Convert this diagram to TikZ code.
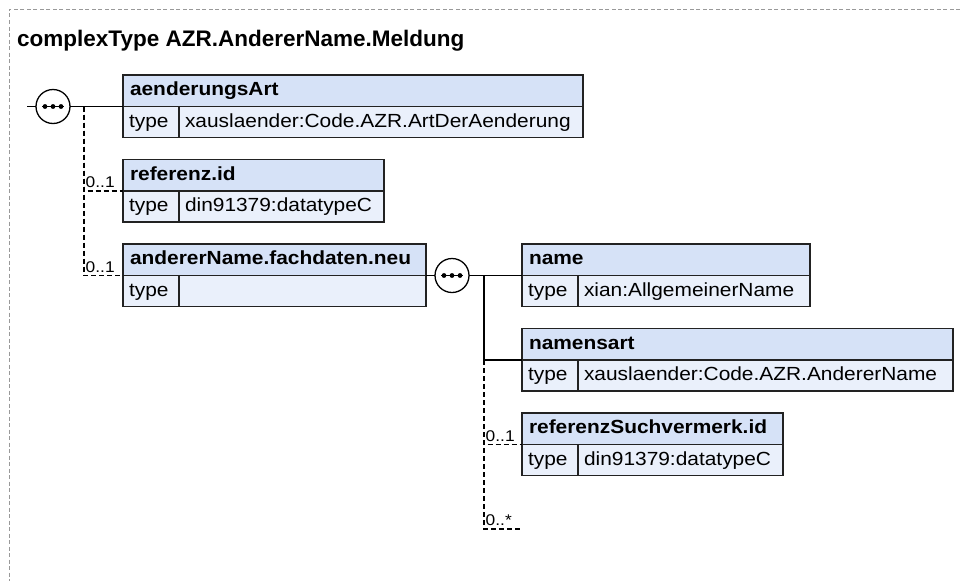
\documentclass[tikz,border=0pt]{standalone}
\usepackage{graphicx}
\usepackage{fontspec}
\setmainfont{Liberation Sans}
\newfontfamily\boxfont[FakeStretch=1.1]{Liberation Sans}
\usetikzlibrary{calc}
\definecolor{hdrfill}{HTML}{D6E2F7}
\definecolor{rowfill}{HTML}{EAF0FB}
\definecolor{edge}{HTML}{222222}
\definecolor{frame}{HTML}{999999}
\tikzset{
  hdrbox/.style={draw=edge, line width=1.5pt, fill=hdrfill, anchor=north west,
    minimum height=31.5pt, inner xsep=7pt, inner ysep=0pt, outer sep=0pt,
    text height=14pt, text depth=4pt, align=left,
    font=\boxfont\fontsize{19}{22}\selectfont\bfseries},
  cellbox/.style={draw=edge, line width=1.5pt, fill=rowfill, anchor=north west,
    minimum height=31pt, inner xsep=6pt, inner ysep=0pt, outer sep=0pt,
    text height=14pt, text depth=4pt, align=left,
    font=\boxfont\fontsize{19}{22}\selectfont},
  seqnode/.style={circle, draw=black, line width=1.3pt, fill=white,
    minimum size=34pt, inner sep=0pt, outer sep=0pt},
  conn/.style={draw=black, line width=1.3pt},
  optconn/.style={draw=black, line width=1.3pt, dash pattern=on 5pt off 3pt},
  mult/.style={font=\fontsize{15.5}{18}\selectfont, inner sep=0pt, anchor=base west},
}
\newcommand\xelem[7]{%
  \node[hdrbox, text width=#4pt] (#1) at (#2,#3) {#5};
  \node[cellbox, text width=44pt] (#1t) at (#1.south west) {type};
  \node[cellbox, text width=#6pt] (#1v) at (#1t.north east) {#7};
}
\newcommand\seqdots[1]{%
  \draw[line width=1.3pt] ($(#1.center)+(-11,0)$) -- ($(#1.center)+(11,0)$);
  \fill ($(#1.center)+(-8,0)$) circle (2.4pt);
  \fill (#1.center) circle (2.4pt);
  \fill ($(#1.center)+(8,0)$) circle (2.4pt);
}
\newcommand\multtext[1]{\scalebox{1.12}[1]{#1}}
\begin{document}
\begin{tikzpicture}[x=1pt, y=-1pt]
  \useasboundingbox (0,0) rectangle (960,581);
  \fill[white] (0,0) rectangle (960,581);
  \draw[frame, line width=1pt, dash pattern=on 4pt off 2.5pt] (960,9) -- (9,9) -- (9,581);
  \node[anchor=base west, inner sep=0pt, font=\fontsize{22.5}{26}\selectfont\bfseries] (title) at (17,46) {complexType AZR.AndererName.Meldung};

  % elements
  \xelem{aen}{123}{75}{446}{aenderungsArt}{392}{xauslaender:Code.AZR.ArtDerAenderung}
  \xelem{ref}{123}{159.5}{247}{referenz.id}{193}{din91379:datatypeC}
  \xelem{and}{123}{244}{289}{andererName.fachdaten.neu}{235}{}
  \xelem{nme}{522}{244}{274}{name}{220}{xian:AllgemeinerName}
  \xelem{nam}{522}{328.5}{417}{namensart}{363}{xauslaender:Code.AZR.AndererName}
  \xelem{rsv}{522}{413}{247}{referenzSuchvermerk.id}{193}{din91379:datatypeC}

  % sequence 1
  \coordinate (in1) at (27,106.5);
  \node[seqnode] (s1) at (53,106.5) {};
  \seqdots{s1}
  \coordinate (b1) at (84,106.5);
  \draw[conn] (in1) -- (s1);
  \draw[conn] (s1) -- (aen.south west);
  \draw[optconn] (b1) |- (ref.south west);
  \draw[optconn] (b1) |- (and.south west);
  \node[mult] (m1) at ($(b1 |- ref.south west)+(1.5,-3.5)$) {\multtext{0..1}};
  \node[mult] (m2) at ($(b1 |- and.south west)+(1.5,-3.5)$) {\multtext{0..1}};

  % sequence 2
  \node[seqnode] (s2) at (452,275.5) {};
  \seqdots{s2}
  \coordinate (b2) at (484,275.5);
  \coordinate (b3) at (484,360);
  \coordinate (end) at (520,529);
  \draw[conn] (and.south east) -- (s2);
  \draw[conn] (s2) -- (nme.south west);
  \draw[conn] (b2) |- (nam.south west);
  \draw[optconn] (b3) |- (rsv.south west);
  \draw[optconn] (b3) |- (end);
  \node[mult] (m3) at ($(b3 |- rsv.south west)+(1.5,-3.5)$) {\multtext{0..1}};
  \node[mult] (m4) at ($(b3 |- end)+(1.5,-3.5)$) {\multtext{0..*}};
\end{tikzpicture}
\end{document}
